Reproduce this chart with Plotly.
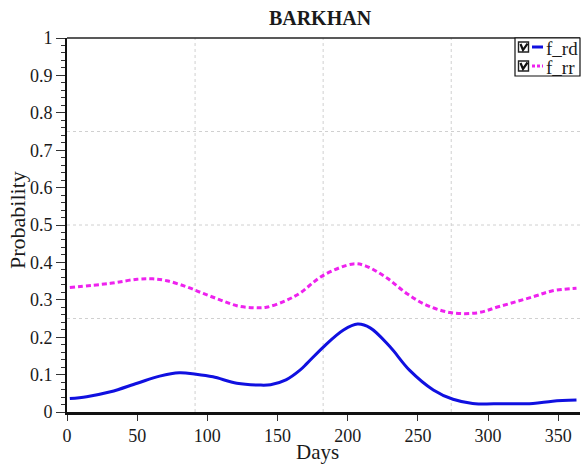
import plotly.graph_objects as go

# Daily probability curves over the year
rd_days = [2, 14, 31, 50, 66, 80, 92, 104, 121, 137, 145, 156, 166, 171, 183,
           197, 207, 216, 230, 244, 261, 275, 289, 310, 332, 346, 363]
f_rd = [0.036, 0.041, 0.054, 0.077, 0.096, 0.105, 0.101, 0.094, 0.077, 0.072,
        0.073, 0.086, 0.112, 0.130, 0.175, 0.219, 0.235, 0.225, 0.175, 0.112,
        0.059, 0.034, 0.023, 0.022, 0.023, 0.029, 0.032]

rr_days = [2, 31, 50, 61, 71, 85, 97, 109, 121, 133, 142, 156, 166, 182,
           204, 213, 228, 242, 256, 273, 292, 308, 332, 346, 363]
f_rr = [0.333, 0.344, 0.355, 0.356, 0.351, 0.335, 0.317, 0.300, 0.284, 0.279,
        0.280, 0.298, 0.318, 0.364, 0.396, 0.390, 0.358, 0.317, 0.286, 0.266,
        0.265, 0.282, 0.308, 0.324, 0.331]

series_names = ["f_rd", "f_rr"]
series_colors = ["#1010e0", "#ee22ee"]

x_ticks = [0, 50, 100, 150, 200, 250, 300, 350]
y_ticks = [0, 0.1, 0.2, 0.3, 0.4, 0.5, 0.6, 0.7, 0.8, 0.9, 1]
y_tick_text = ["0", "0.1", "0.2", "0.3", "0.4", "0.5", "0.6", "0.7", "0.8", "0.9", "1"]
grid_days = [91.25, 182.5, 273.75]
grid_probs = [0.25, 0.5, 0.75]

W, H = 583, 466
L, R, T, B = 67, 3, 38, 54
PW, PH = W - L - R, H - T - B

def px(x):
    return (x - L) / PW

def py(y):
    return (H - B - y) / PH

FONT = "Liberation Serif, Times New Roman, serif"
TXT = "#1a1a1a"

fig = go.Figure()
fig.add_trace(go.Scatter(x=rd_days, y=f_rd, mode="lines", name=series_names[0],
                         line=dict(color=series_colors[0], width=3, shape="spline"),
                         showlegend=False))
fig.add_trace(go.Scatter(x=rr_days, y=f_rr, mode="lines", name=series_names[1],
                         line=dict(color=series_colors[1], width=3, shape="spline",
                                   dash="5px,3px"),
                         showlegend=False))

shapes = []
# dotted grid lines
for d in grid_days:
    shapes.append(dict(type="line", xref="x", yref="paper", x0=d, x1=d, y0=0, y1=1,
                       line=dict(color="#d0d0d0", width=1, dash="dot"), layer="below"))
for p in grid_probs:
    shapes.append(dict(type="line", xref="paper", yref="y", x0=0, x1=1, y0=p, y1=p,
                       line=dict(color="#d0d0d0", width=1, dash="dot"), layer="below"))
# top frame line
shapes.append(dict(type="line", xref="paper", yref="paper", x0=0, x1=1, y0=1, y1=1,
                   line=dict(color="#222", width=1.5)))

# legend box with check boxes
lx0, lx1, ly0, ly1 = 515, 580, 38, 76
shapes.append(dict(type="rect", xref="paper", yref="paper", x0=px(lx0), x1=px(lx1),
                   y0=py(ly1), y1=py(ly0), line=dict(color="#111", width=1.2),
                   fillcolor="white"))
annotations = []
row_y = [47, 66]
for name, color, ry, dash in zip(series_names, series_colors, row_y, ["solid", "3px,2px"]):
    cx0, cx1 = 518.5, 528.5
    shapes.append(dict(type="rect", xref="paper", yref="paper", x0=px(cx0), x1=px(cx1),
                       y0=py(ry + 5), y1=py(ry - 5),
                       line=dict(color="#222", width=1.4), fillcolor="white"))
    path = "M {:.5f},{:.5f} L {:.5f},{:.5f} L {:.5f},{:.5f}".format(
        px(520.5), py(ry - 3), px(523), py(ry + 3), px(527.5), py(ry - 3.5))
    shapes.append(dict(type="path", xref="paper", yref="paper", path=path,
                       line=dict(color="#111", width=2.2)))
    shapes.append(dict(type="line", xref="paper", yref="paper", x0=px(532), x1=px(543),
                       y0=py(ry), y1=py(ry), line=dict(color=color, width=3, dash=dash)))
    annotations.append(dict(text=name, xref="paper", yref="paper", x=px(544), y=py(ry + 1),
                            xanchor="left", yanchor="middle", showarrow=False,
                            font=dict(family=FONT, size=19, color=TXT)))

# axis titles
annotations.append(dict(text="Days", xref="paper", yref="paper", x=px(317), y=py(452),
                        xanchor="center", yanchor="middle", showarrow=False,
                        font=dict(family=FONT, size=21, color=TXT)))
annotations.append(dict(text="Probability", xref="paper", yref="paper", x=px(18), y=py(220),
                        xanchor="center", yanchor="middle", showarrow=False, textangle=-90,
                        font=dict(family=FONT, size=22, color=TXT)))

fig.update_layout(
    width=W, height=H,
    margin=dict(l=L, r=R, t=T, b=B),
    paper_bgcolor="white", plot_bgcolor="white",
    title=dict(text="<b>BARKHAN</b>", x=320 / W, xanchor="center",
               y=1 - 18 / H, yanchor="middle",
               font=dict(family=FONT, size=20, color=TXT)),
    font=dict(family=FONT, color=TXT),
    shapes=shapes, annotations=annotations,
    xaxis=dict(range=[0, 365.5], tickvals=x_ticks, ticks="outside", ticklen=6,
               tickwidth=1.2, tickcolor="#333", showgrid=False, zeroline=False,
               showline=True, linecolor="#111", linewidth=2.5,
               tickfont=dict(size=18, family=FONT, color=TXT)),
    yaxis=dict(range=[0, 1], tickvals=y_ticks, ticktext=y_tick_text, ticks="outside",
               ticklen=9, tickwidth=1.2, tickcolor="#333", showgrid=False,
               zeroline=False, showline=True, linecolor="#111", linewidth=2,
               minor=dict(dtick=0.02, ticks="outside", ticklen=4, tickcolor="#333",
                          tickwidth=1),
               tickfont=dict(size=18, family=FONT, color=TXT)),
)

fig.write_html("out.html")
